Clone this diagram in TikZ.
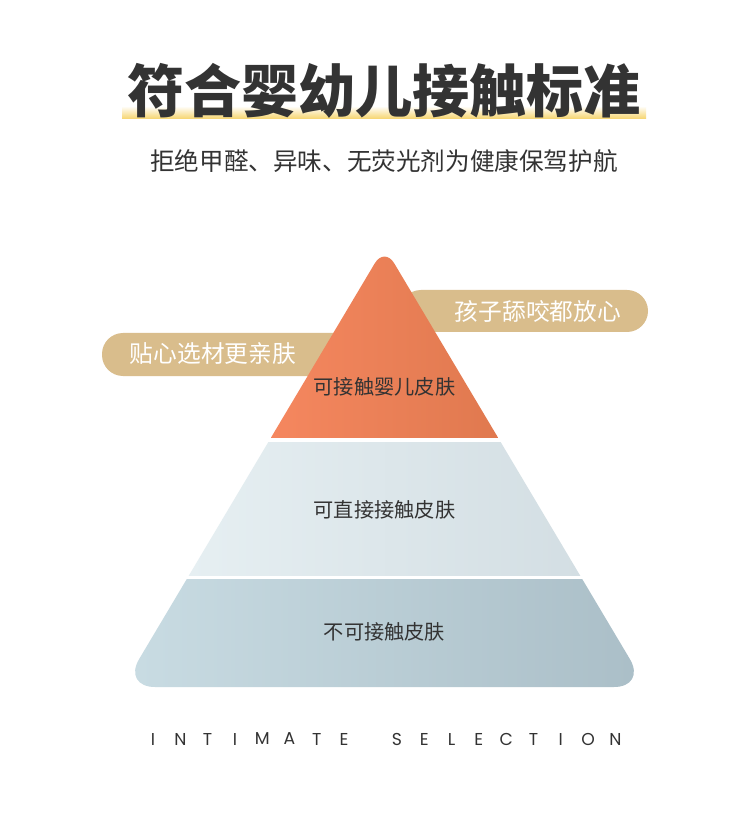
\documentclass[tikz,border=0pt]{standalone}
\usepackage{fontspec}
\usepackage{xcolor}
\usepackage{tikz}
\usetikzlibrary{positioning}

\newfontfamily\cjk{Noto Sans CJK SC}
\newfontfamily\latin{Poppins}

\definecolor{ink}{HTML}{333333}
\definecolor{hilite}{HTML}{F6D46C}
\definecolor{pillc}{HTML}{D9BD8C}
\definecolor{topL}{HTML}{F5875F}
\definecolor{topR}{HTML}{E0794F}
\definecolor{midL}{HTML}{E6EFF2}
\definecolor{midR}{HTML}{D3DEE3}
\definecolor{lowL}{HTML}{C9DCE3}
\definecolor{lowR}{HTML}{AABEC7}

\begin{document}
\begin{tikzpicture}[
  x=0.02cm, y=-0.02cm,
  title/.style={font=\cjk\bfseries\fontsize{32.5}{33}\selectfont, text=ink, inner sep=0pt},
  subtitle/.style={font=\cjk\fontsize{14}{14}\selectfont, text=ink, inner sep=0pt},
  pilltext/.style={font=\cjk\fontsize{13.5}{14}\selectfont, text=white, inner sep=0pt},
  layer/.style={font=\cjk\fontsize{11.5}{12}\selectfont, text=ink, inner sep=0pt},
  lettr/.style={font=\latin\fontsize{9.8}{10}\selectfont, text=ink, inner sep=0pt},
  pill/.style={fill=pillc, rounded corners=0.42cm}
]
\useasboundingbox (0,0) rectangle (750,813);
\fill[white] (0,0) rectangle (750,813);

% --- heading ---
\shade[top color=white, bottom color=hilite] (122,106) rectangle (646,119);
\node[title]    (head) at (384,91)  {符合婴幼儿接触标准};
\node[subtitle] (sub)  at (384,161) {拒绝甲醛、异味、无荧光剂为健康保驾护航};

% --- side tags, behind the pyramid ---
\fill[pill] (102,333) rectangle (360,376);
\fill[pill] (400,290) rectangle (648,332);
\node[pilltext] (tagL) at (213,354) {贴心选材更亲肤};
\node[pilltext] (tagR) at (538,311) {孩子舔咬都放心};

% --- pyramid ---
\coordinate (apex) at (384.5,247);
\coordinate (bl)   at (122.5,687);
\coordinate (br)   at (646.5,687);
\begin{scope}
  \clip (bl) [rounded corners=0.38cm] -- (apex) [rounded corners=0.65cm] -- (br) -- cycle;
  \shade[left color=topL, right color=topR] (271,240) rectangle (498,437);
  \shade[left color=midL, right color=midR] (187,442) rectangle (582,575);
  \shade[left color=lowL, right color=lowR] (120,579) rectangle (649,690);
\end{scope}

\node[layer] (lvl1) at (384.5,387) {可接触婴儿皮肤};
\node[layer] (lvl2) at (384.5,510) {可直接接触皮肤};
\node[layer] (lvl3) at (384.5,632) {不可接触皮肤};

% --- footer ---
\foreach \c [count=\i] in {I,N,T,I,M,A,T,E}
  \node[lettr] (ltrA\i) at ({153+27.3*(\i-1)},739) {\c};
\foreach \c [count=\i] in {S,E,L,E,C,T,I,O,N}
  \node[lettr] (ltrB\i) at ({397+27.3*(\i-1)},739) {\c};

\end{tikzpicture}
\end{document}
